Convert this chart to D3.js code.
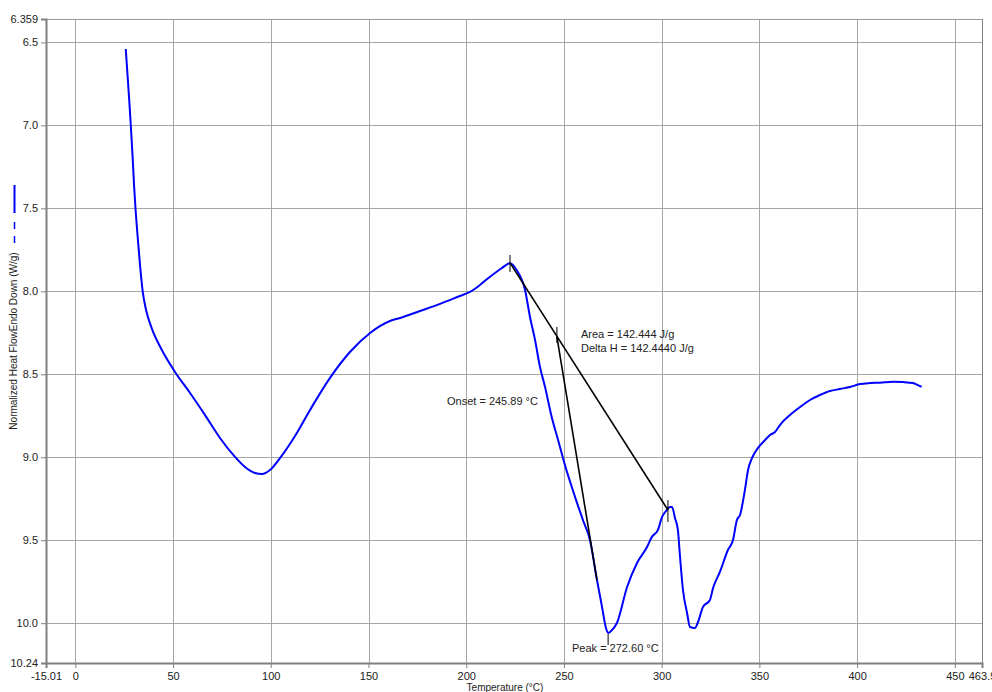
<!DOCTYPE html>
<html>
<head>
<meta charset="utf-8">
<script src="https://cdn.jsdelivr.net/npm/d3@7"></script>
<style>
  body { margin: 0; background: #fff; }
  text { font-family: "Liberation Sans", Arial, sans-serif; fill: #222; }
  .grid line { stroke: #a6a6a6; stroke-width: 1; }
  .axis path, .axis line { stroke: #808080; }
</style>
</head>
<body>
<svg width="992" height="692"></svg>
<script>
// DSC curve: temperature (°C) and normalized heat flow (W/g)
var temps = [25.8, 26.7, 27.8, 28.4, 29.3, 30.1, 30.8, 31.9, 33.0, 34.5, 36.2, 39.1, 43.8,
  51.0, 58.7, 66.3, 74.0, 81.7, 86.8, 91.9, 95.5, 99.6, 104.7, 112.4, 120.1, 130.3, 140.5,
  150.8, 161.0, 166.1, 176.3, 186.6, 196.8, 201.9, 207.0, 212.2, 218.1, 222.4,
  225.8, 230.1, 232.6, 235.2, 237.7, 240.3, 243.7, 247.0, 250.5, 255.7, 259.7, 263.3,
  266.9, 269.5, 271.5, 272.6, 274.1, 277.1, 282.3, 287.4, 292.5, 295.0, 298.1, 300.2,
  302.7, 304.2, 305.3, 306.8, 308.3, 309.4, 310.9, 313.0, 314.5, 317.0, 318.6, 321.1,
  324.7, 326.3, 329.8, 333.9, 336.5, 338.5, 340.1, 342.6, 344.2, 346.2, 349.3, 352.9,
  355.4, 358.0, 360.5, 365.7, 370.8, 375.9, 381.0, 386.1, 391.2, 396.4, 401.5, 406.6,
  411.7, 418.3, 423.5, 428.6, 431.1, 433.0];
var heatFlow = [6.540, 6.696, 6.889, 7.004, 7.191, 7.371, 7.504, 7.673, 7.829, 8.004, 8.113, 8.223, 8.343,
  8.486, 8.613, 8.745, 8.884, 8.998, 9.059, 9.095, 9.101, 9.077, 9.005, 8.872, 8.715, 8.522, 8.366,
  8.251, 8.179, 8.161, 8.119, 8.076, 8.028, 8.004, 7.962, 7.912, 7.861, 7.831,
  7.872, 7.992, 8.153, 8.293, 8.454, 8.575, 8.756, 8.896, 9.047, 9.240, 9.378, 9.499,
  9.740, 9.903, 10.029, 10.059, 10.047, 9.999, 9.782, 9.637, 9.541, 9.480, 9.438, 9.360,
  9.318, 9.300, 9.300, 9.366, 9.438, 9.601, 9.800, 9.939, 10.023, 10.029, 9.993, 9.903,
  9.860, 9.788, 9.691, 9.559, 9.499, 9.378, 9.348, 9.197, 9.077, 9.005, 8.944, 8.896,
  8.866, 8.848, 8.806, 8.745, 8.697, 8.655, 8.625, 8.601, 8.589, 8.577, 8.559, 8.553,
  8.551, 8.545, 8.547, 8.553, 8.565, 8.575];

// axis ticks
var xTicks = [-15.01, 0, 50, 100, 150, 200, 250, 300, 350, 400, 450, 463.9];
var xTickLabels = ["-15.01", "0", "50", "100", "150", "200", "250", "300", "350", "400", "450", "463.9"];
var yTicks = [6.359, 6.5, 7.0, 7.5, 8.0, 8.5, 9.0, 9.5, 10.0, 10.24];
var yTickLabels = ["6.359", "6.5", "7.0", "7.5", "8.0", "8.5", "9.0", "9.5", "10.0", "10.24"];

// analysis construction lines (temperature, heat flow)
var baseline = [[222.4, 7.829], [303.2, 9.318]];
var onsetTangent = [[246.4, 8.275], [266.9, 9.740]];
var markTicks = [
  [[222.4, 7.781], [222.4, 7.884]],
  [[303.2, 9.258], [303.2, 9.390]],
  [[246.4, 8.215], [246.4, 8.311]],
  [[272.6, 10.065], [272.6, 10.131]]
];
var areaText = "Area = 142.444 J/g";
var deltaHText = "Delta H = 142.4440 J/g";
var onsetText = "Onset = 245.89 °C";
var peakText = "Peak = 272.60 °C";

var svg = d3.select("svg");
var x = d3.scaleLinear().domain([-15.01, 463.9]).range([46, 982]);
var y = d3.scaleLinear().domain([6.359, 10.24]).range([19, 663]);

// grid
var grid = svg.append("g").attr("class", "grid");
grid.selectAll("line.h")
  .data(yTicks.slice(1, -1))
  .enter().append("line")
  .attr("x1", x(-15.01)).attr("x2", x(463.9))
  .attr("y1", function(d) { return Math.round(y(d)) + 0.5; })
  .attr("y2", function(d) { return Math.round(y(d)) + 0.5; });
grid.selectAll("line.v")
  .data(xTicks.slice(1, -1))
  .enter().append("line")
  .attr("y1", y(6.359)).attr("y2", y(10.24))
  .attr("x1", function(d) { return Math.round(x(d)) + 0.5; })
  .attr("x2", function(d) { return Math.round(x(d)) + 0.5; });

// frame top/right
svg.append("line")
  .attr("x1", x(-15.01)).attr("x2", x(463.9))
  .attr("y1", Math.round(y(6.359)) + 0.5).attr("y2", Math.round(y(6.359)) + 0.5)
  .attr("stroke", "#999");
svg.append("line")
  .attr("x1", Math.round(x(463.9)) + 0.5).attr("x2", Math.round(x(463.9)) + 0.5)
  .attr("y1", y(6.359)).attr("y2", y(10.24))
  .attr("stroke", "#808080");

// axes
var yAxis = svg.append("g")
  .attr("class", "axis")
  .attr("transform", "translate(" + x(-15.01) + ",0)")
  .call(d3.axisLeft(y).tickValues(yTicks).tickSize(5).tickPadding(3)
    .tickFormat(function(d, i) { return yTickLabels[i]; }));
yAxis.select(".domain").attr("stroke-width", 2);
yAxis.selectAll("text").style("font-size", "11px").attr("fill", "#222");

var xAxis = svg.append("g")
  .attr("class", "axis")
  .attr("transform", "translate(0," + y(10.24) + ")")
  .call(d3.axisBottom(x).tickValues(xTicks).tickSize(5).tickPadding(4)
    .tickFormat(function(d, i) { return xTickLabels[i]; }));
xAxis.select(".domain").attr("stroke-width", 2);
xAxis.selectAll("text").style("font-size", "11px").attr("fill", "#222");

// axis titles
svg.append("text")
  .attr("transform", "translate(17,341)rotate(-90)")
  .attr("text-anchor", "middle")
  .style("font-size", "10px")
  .text("Normalized Heat FlowEndo Down (W/g)");
svg.append("text")
  .attr("x", 505).attr("y", 691)
  .attr("text-anchor", "middle")
  .style("font-size", "10px")
  .text("Temperature (°C)");

// series key next to the y title
svg.append("line").attr("x1", 14.5).attr("x2", 14.5).attr("y1", 185).attr("y2", 213)
  .attr("stroke", "#0000ff").attr("stroke-width", 2);
svg.append("line").attr("x1", 14.5).attr("x2", 14.5).attr("y1", 222).attr("y2", 250)
  .attr("stroke", "#0000ff").attr("stroke-width", 1.5).attr("stroke-dasharray", "7,7");

// curve
var line = d3.line()
  .x(function(d) { return x(d[0]); })
  .y(function(d) { return y(d[1]); });
var smooth = d3.line()
  .curve(d3.curveMonotoneX)
  .x(function(d) { return x(d[0]); })
  .y(function(d) { return y(d[1]); });
svg.append("path")
  .datum(d3.zip(temps, heatFlow))
  .attr("d", smooth)
  .attr("fill", "none")
  .attr("stroke", "#0000ff")
  .attr("stroke-width", 2)
  .attr("stroke-linejoin", "round");

// construction lines
[baseline, onsetTangent].forEach(function(seg) {
  svg.append("path").datum(seg).attr("d", line)
    .attr("fill", "none").attr("stroke", "#000").attr("stroke-width", 1.6);
});
markTicks.forEach(function(seg) {
  svg.append("path").datum(seg).attr("d", line)
    .attr("fill", "none").attr("stroke", "#000").attr("stroke-width", 1);
});

// annotations
svg.append("text").attr("x", 581).attr("y", 338).style("font-size", "11px").text(areaText);
svg.append("text").attr("x", 581).attr("y", 352).style("font-size", "11px").text(deltaHText);
svg.append("text").attr("x", 447).attr("y", 405).style("font-size", "11px").text(onsetText);
svg.append("text").attr("x", 572).attr("y", 652).style("font-size", "11px").text(peakText);
</script>
</body>
</html>
